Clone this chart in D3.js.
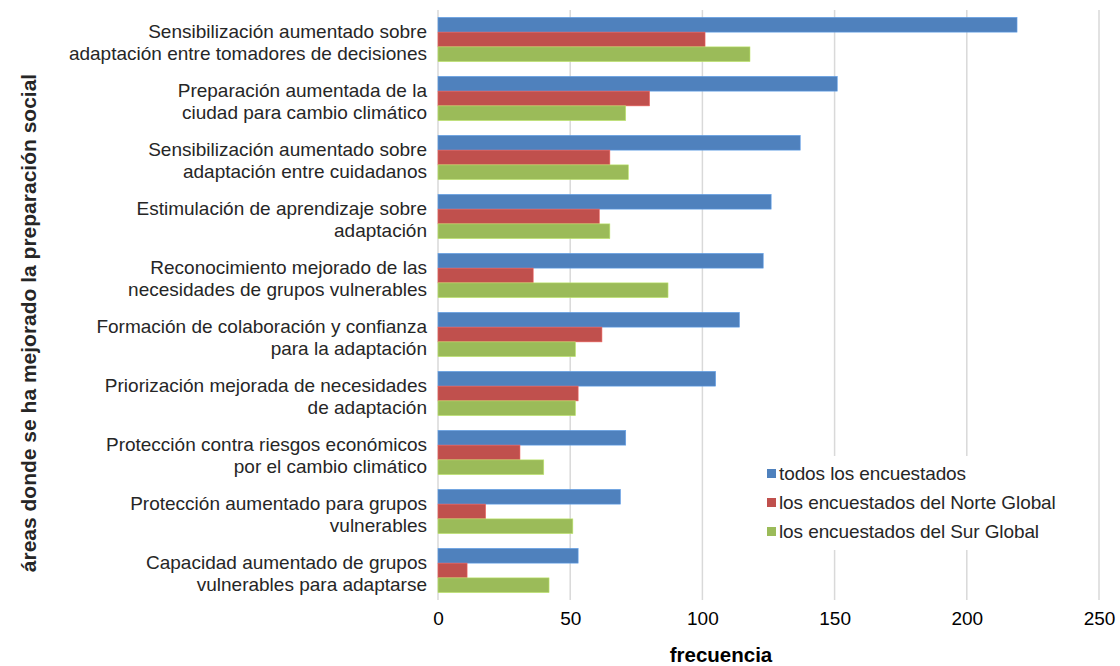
<!DOCTYPE html>
<html><head><meta charset="utf-8">
<script src="https://cdn.jsdelivr.net/npm/d3@7"></script>
<style>
body{margin:0;background:#fff;}
text{font-family:"Liberation Sans",Arial,Helvetica,sans-serif;}
</style></head>
<body>
<svg id="chart" width="1120" height="666"></svg>
<script>
const categories = [
  ["Sensibilización aumentado sobre","adaptación entre tomadores de decisiones"],
  ["Preparación aumentada de la","ciudad para cambio climático"],
  ["Sensibilización aumentado sobre","adaptación entre cuidadanos"],
  ["Estimulación de aprendizaje sobre","adaptación"],
  ["Reconocimiento mejorado de las","necesidades de grupos vulnerables"],
  ["Formación de colaboración y confianza","para la adaptación"],
  ["Priorización mejorada de necesidades","de adaptación"],
  ["Protección contra riesgos económicos","por el cambio climático"],
  ["Protección aumentado para grupos","vulnerables"],
  ["Capacidad aumentado de grupos","vulnerables para adaptarse"]
];
const seriesNames = ["todos los encuestados","los encuestados del Norte Global","los encuestados del Sur Global"];
const todos = [219,151,137,126,123,114,105,71,69,53];
const norte = [101,80,65,61,36,62,53,31,18,11];
const sur   = [118,71,72,65,87,52,52,40,51,42];
const xTicks = [0,50,100,150,200,250];
const colors = ["#4F81BD","#C0504D","#9BBB59"];
const series = [todos, norte, sur];

const svg = d3.select("#chart");
const pLeft = 438, pRight = 1099, pTop = 10, pBottom = 600;
const x = d3.scaleLinear().domain([0,250]).range([pLeft,pRight]);
const y = d3.scaleBand().domain(d3.range(categories.length)).range([pTop,pBottom]).paddingInner(0.25).paddingOuter(0.125);
const ySub = d3.scaleBand().domain([0,1,2]).range([0,y.bandwidth()]);

// gridlines
svg.append("g").selectAll("line").data(xTicks).join("line")
  .attr("x1",d=>x(d)).attr("x2",d=>x(d)).attr("y1",pTop).attr("y2",pBottom)
  .attr("stroke","#D9D9D9").attr("stroke-width",1.5);

// bars
series.forEach((vals,si)=>{
  svg.append("g").selectAll("rect").data(vals).join("rect")
    .attr("x",x(0)).attr("y",(d,i)=>y(i)+ySub(si))
    .attr("width",d=>x(d)-x(0)).attr("height",ySub.bandwidth())
    .attr("fill",colors[si]).attr("stroke",d3.color(colors[si]).brighter(0.6)).attr("stroke-width",0.6);
});

// x axis labels
const xAxis = d3.axisBottom(x).tickValues(xTicks).tickSize(0).tickPadding(12);
const gx = svg.append("g").attr("transform",`translate(0,${pBottom})`).call(xAxis);
gx.select(".domain").remove();
gx.selectAll("text").attr("font-size",19).attr("fill","#000").attr("font-family","Liberation Sans,Arial,sans-serif");

// category labels
const gl = svg.append("g");
categories.forEach((lines,i)=>{
  const cy = y(i)+y.bandwidth()/2 + 2.5;
  const t = gl.append("text").attr("x",427).attr("y",cy).attr("text-anchor","end")
    .attr("font-size",19).attr("fill","#262626");
  lines.forEach((l,j)=>{
    t.append("tspan").attr("x",427).attr("y",cy + (j-(lines.length-1)/2)*22 + 7).text(l);
  });
});

// axis titles
svg.append("text").attr("x",721).attr("y",662).attr("text-anchor","middle")
  .attr("font-size",20.5).attr("font-weight","bold").attr("fill","#000").text("frecuencia");
svg.append("text").attr("transform",`translate(36,323) rotate(-90)`).attr("text-anchor","middle")
  .attr("font-size",21).attr("font-weight","bold").attr("fill","#262626")
  .text("áreas donde se ha mejorado la preparación social");

// legend
const lg = svg.append("g").attr("transform","translate(762,456)");
lg.append("rect").attr("width",310).attr("height",94).attr("fill","#fff");
seriesNames.forEach((n,i)=>{
  const ry = 17 + i*29;
  lg.append("rect").attr("x",5).attr("y",ry-4).attr("width",9).attr("height",9).attr("fill",colors[i]);
  lg.append("text").attr("x",17).attr("y",ry+7).attr("font-size",19).attr("fill","#262626")
    .attr("letter-spacing","-0.1").text(n);
});
</script>
</body></html>
